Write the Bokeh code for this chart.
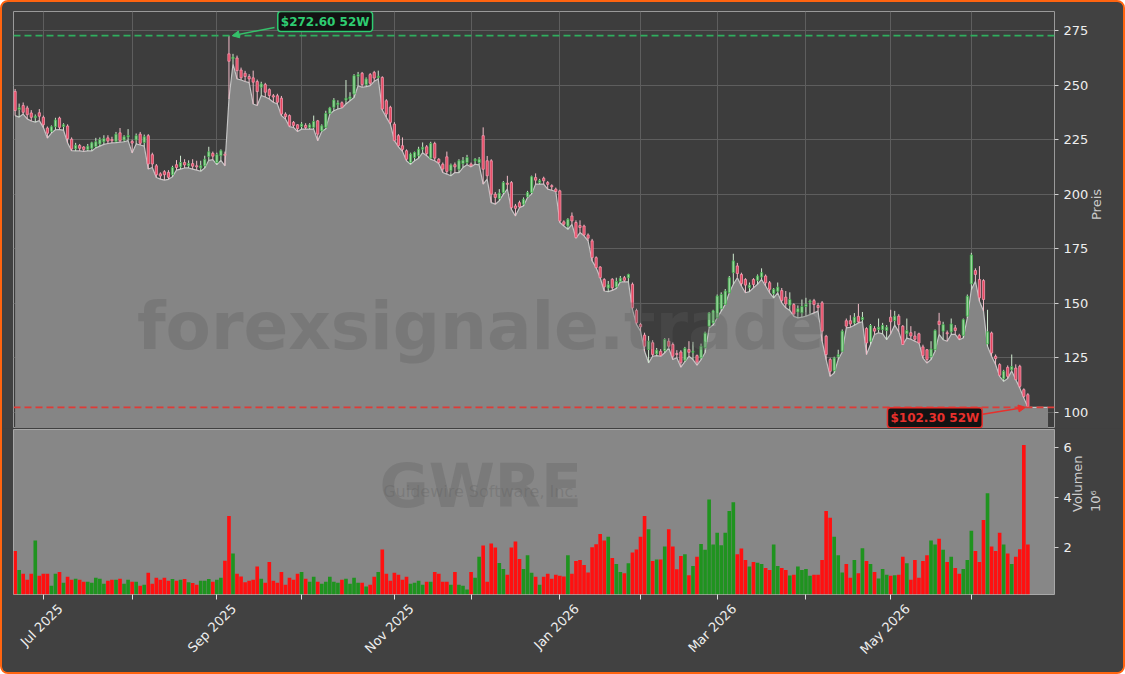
import math
import pandas as pd
from bokeh.plotting import figure
from bokeh.models import (Range1d, FixedTicker, Span, Label, Arrow, NormalHead,
                          ColumnDataSource)
from bokeh.layouts import column
from bokeh.embed import file_html
from bokeh.resources import INLINE

# ---------------- data ----------------
start_date = "2025-06-20"
holidays = ["2025-07-04", "2025-09-01", "2025-11-27", "2025-12-25", "2026-01-01",
            "2026-01-19", "2026-02-16", "2026-04-03", "2026-05-25", "2026-06-19"]

opens = [
    247.1, 238.8, 240.6, 239.5, 237.2, 235.0, 237.3, 235.2, 230.3, 228.8,
    230.9, 234.9, 231.0, 231.2, 225.2, 220.8, 222.3, 221.6, 220.5, 221.0,
    221.8, 223.0, 224.0, 225.8, 225.0, 224.2, 228.1, 224.8, 226.2, 224.2,
    224.8, 227.5, 223.7, 226.8, 218.1, 213.0, 209.3, 210.3, 210.0, 208.9,
    213.5, 212.5, 214.5, 213.0, 214.0, 213.0, 212.0, 213.0, 217.2, 218.7,
    214.5, 217.6, 218.3, 264.3, 262.0, 262.4, 256.9, 255.4, 253.9, 253.3,
    251.6, 249.0, 250.2, 247.9, 245.1, 245.1, 244.0, 236.7, 236.0, 232.9,
    231.8, 231.0, 231.5, 230.5, 230.6, 233.6, 229.0, 230.6, 237.0, 239.8,
    241.0, 241.9, 243.1, 243.7, 245.9, 254.0, 255.4, 250.2, 254.8, 255.8,
    253.5, 253.5, 242.8, 239.8, 232.1, 226.8, 222.2, 219.9, 214.5, 216.8,
    217.6, 220.6, 221.7, 216.5, 223.2, 216.0, 213.7, 217.1, 210.7, 213.5,
    211.4, 214.0, 214.5, 213.8, 215.3, 214.5, 226.8, 215.3, 215.3, 200.0,
    198.0, 200.8, 205.0, 205.3, 194.6, 196.1, 195.4, 198.8, 200.8, 207.6,
    205.3, 207.3, 205.3, 203.9, 202.3, 201.5, 187.3, 185.4, 190.0, 187.0,
    185.6, 185.4, 181.3, 178.6, 170.9, 166.6, 160.9, 157.0, 161.0, 157.5,
    160.0, 161.7, 161.7, 158.7, 146.7, 140.3, 135.4, 128.8, 131.9, 126.8,
    128.0, 128.3, 132.6, 131.1, 127.0, 127.7, 123.9, 128.8, 127.5, 126.0,
    125.0, 129.6, 139.5, 141.0, 143.3, 147.5, 149.5, 154.8, 164.0, 167.1,
    163.2, 160.9, 157.1, 160.9, 160.5, 162.0, 162.5, 159.4, 154.4, 155.5,
    155.8, 152.8, 149.1, 149.4, 146.0, 145.5, 148.5, 150.5, 151.2, 149.0,
    150.2, 134.9, 124.2, 119.1, 125.5, 128.0, 142.0, 142.0, 141.0, 144.0,
    142.5, 138.4, 132.6, 138.4, 138.0, 137.9, 137.5, 143.6, 142.1, 144.1,
    139.5, 136.0, 136.5, 135.0, 136.0, 130.0, 128.7, 125.5, 128.7, 141.8,
    137.2, 136.5, 136.9, 138.7, 135.3, 135.3, 144.1, 158.9, 165.0, 160.9,
    160.4, 131.4, 136.4, 125.7, 121.9, 115.4, 120.6, 119.5, 120.3, 121.1,
    110.4, 108.1]

closes = [
    238.3, 239.6, 237.5, 236.4, 235.2, 235.7, 235.7, 231.8, 227.9, 230.9,
    234.0, 230.6, 231.8, 225.4, 220.7, 222.4, 221.0, 220.5, 222.0, 223.5,
    224.0, 225.0, 225.5, 224.3, 224.5, 227.5, 224.5, 226.3, 226.9, 223.4,
    226.8, 223.3, 226.3, 213.8, 213.8, 208.9, 208.3, 208.9, 207.7, 212.2,
    212.2, 214.5, 213.4, 214.0, 212.8, 212.5, 213.0, 216.0, 219.4, 217.4,
    218.1, 219.9, 217.8, 260.9, 262.8, 256.6, 253.3, 253.9, 252.8, 251.3,
    247.0, 250.5, 246.7, 245.2, 244.5, 242.1, 236.7, 235.5, 231.3, 231.5,
    230.0, 232.1, 230.5, 231.8, 233.3, 227.5, 231.3, 237.0, 239.5, 243.1,
    241.8, 239.8, 244.0, 244.6, 254.3, 254.8, 250.2, 252.8, 250.8, 253.2,
    254.0, 239.0, 236.7, 232.9, 224.5, 222.2, 220.5, 216.0, 218.4, 219.1,
    220.6, 221.5, 218.6, 223.2, 216.5, 214.5, 211.5, 210.4, 213.4, 212.5,
    215.3, 215.5, 216.8, 213.0, 216.0, 216.0, 211.4, 208.4, 200.0, 198.5,
    200.5, 205.3, 204.5, 193.8, 193.5, 194.1, 197.7, 200.8, 208.0, 206.4,
    206.2, 206.1, 204.5, 203.4, 201.2, 187.7, 186.2, 188.5, 187.7, 180.1,
    184.7, 181.3, 179.8, 170.9, 166.3, 161.7, 157.5, 158.5, 157.1, 160.0,
    161.5, 160.5, 163.2, 147.9, 141.0, 139.2, 130.3, 132.6, 126.5, 128.5,
    126.0, 133.4, 130.3, 125.7, 126.5, 122.7, 129.3, 127.5, 128.0, 123.0,
    130.3, 136.4, 145.5, 146.5, 153.3, 154.0, 155.6, 161.7, 169.4, 163.6,
    159.0, 158.3, 158.3, 158.6, 162.5, 164.0, 159.4, 156.4, 156.4, 157.4,
    151.3, 149.7, 151.7, 145.1, 147.5, 148.5, 149.5, 151.0, 149.4, 148.0,
    137.2, 126.5, 118.8, 124.9, 126.4, 137.2, 139.5, 140.5, 143.6, 141.5,
    143.5, 131.8, 139.8, 137.2, 139.0, 139.8, 139.0, 141.5, 144.1, 140.2,
    131.1, 137.5, 135.0, 133.5, 131.8, 126.0, 124.2, 129.0, 137.5, 140.2,
    140.2, 136.0, 140.5, 137.5, 133.8, 142.5, 153.2, 172.1, 163.2, 152.5,
    151.7, 136.9, 127.2, 124.6, 117.0, 118.8, 116.5, 121.0, 115.0, 111.9,
    107.3, 102.7]

highs = [
    248.2, 241.5, 242.0, 240.5, 238.5, 236.5, 239.0, 236.0, 231.0, 231.5,
    235.0, 235.5, 232.5, 232.0, 226.0, 223.5, 223.0, 222.0, 223.0, 224.0,
    225.8, 226.0, 227.0, 227.0, 226.3, 228.5, 230.3, 227.0, 229.8, 225.0,
    227.8, 228.5, 227.3, 227.5, 219.0, 213.8, 210.0, 211.0, 211.0, 213.0,
    215.6, 217.6, 216.0, 215.5, 216.0, 215.3, 215.3, 217.6, 221.7, 219.5,
    219.0, 220.5, 219.5, 272.6, 264.3, 263.5, 258.0, 256.5, 255.0, 256.6,
    252.5, 251.5, 251.0, 248.5, 245.9, 246.0, 245.0, 237.5, 236.5, 233.5,
    232.0, 233.0, 232.5, 232.5, 236.0, 234.0, 232.0, 238.2, 240.0, 244.0,
    243.0, 242.5, 252.3, 246.7, 255.0, 256.0, 256.0, 253.5, 255.5, 256.5,
    256.6, 254.0, 243.5, 240.5, 233.0, 227.5, 226.0, 220.5, 219.0, 219.5,
    221.7, 223.7, 222.5, 224.0, 224.0, 216.5, 214.5, 219.5, 214.0, 214.5,
    216.0, 217.0, 218.0, 214.5, 216.5, 217.0, 230.6, 217.5, 216.0, 201.0,
    202.3, 206.0, 208.4, 206.0, 195.5, 197.0, 198.5, 201.5, 208.5, 209.5,
    207.0, 208.0, 206.0, 204.5, 203.0, 202.0, 188.0, 189.0, 191.6, 188.0,
    188.0, 186.0, 182.0, 179.5, 171.5, 167.0, 161.5, 160.2, 161.5, 161.7,
    162.5, 162.5, 163.5, 159.5, 147.5, 141.0, 136.5, 135.0, 133.0, 129.5,
    129.0, 134.0, 134.0, 132.0, 128.5, 128.5, 130.0, 132.6, 132.3, 126.5,
    131.5, 137.0, 146.0, 147.0, 154.0, 155.0, 156.5, 162.5, 172.7, 168.5,
    164.0, 161.5, 159.5, 161.5, 163.2, 166.0, 163.2, 160.2, 157.0, 159.5,
    157.0, 155.6, 155.0, 150.0, 149.0, 151.7, 152.5, 151.7, 152.0, 150.2,
    151.0, 135.5, 125.0, 125.5, 128.7, 138.0, 143.0, 144.5, 145.5, 149.7,
    146.0, 139.0, 140.5, 139.5, 143.0, 141.0, 140.0, 147.0, 146.5, 145.0,
    140.0, 143.0, 139.5, 137.2, 136.5, 131.0, 129.0, 132.6, 138.0, 145.6,
    141.5, 137.5, 143.0, 140.0, 136.0, 143.0, 154.0, 173.1, 166.0, 167.0,
    161.0, 147.0, 137.0, 126.5, 122.5, 119.5, 121.5, 126.5, 122.0, 121.8,
    111.0, 108.8]

lows = [
    236.0, 235.3, 236.7, 234.5, 233.5, 233.0, 233.7, 230.5, 225.7, 228.0,
    229.5, 229.6, 229.3, 223.5, 219.9, 219.8, 219.8, 219.6, 219.8, 219.8,
    221.2, 222.0, 222.8, 223.2, 223.5, 223.6, 223.8, 224.0, 224.5, 218.9,
    223.0, 222.5, 222.0, 211.5, 212.2, 207.6, 206.9, 206.4, 206.8, 208.0,
    211.0, 211.5, 212.0, 212.0, 211.5, 211.0, 210.5, 212.0, 215.5, 215.8,
    213.5, 215.5, 213.0, 243.6, 259.7, 252.8, 252.3, 251.6, 251.1, 241.3,
    240.6, 245.2, 244.5, 243.6, 242.1, 241.3, 236.0, 234.4, 230.9, 230.6,
    228.7, 229.8, 229.8, 229.8, 229.8, 224.5, 228.7, 230.0, 236.7, 238.2,
    239.0, 239.5, 241.3, 242.8, 244.3, 249.7, 249.0, 249.3, 249.7, 251.7,
    252.8, 238.6, 235.2, 232.1, 224.5, 221.7, 219.6, 215.3, 213.7, 215.3,
    216.5, 219.0, 217.6, 216.0, 215.3, 214.0, 209.9, 209.2, 208.4, 209.9,
    209.9, 212.2, 213.5, 212.5, 213.7, 213.4, 204.6, 206.9, 196.1, 195.4,
    197.0, 199.9, 202.3, 193.0, 190.0, 193.8, 194.6, 198.5, 200.0, 204.6,
    204.6, 204.6, 202.3, 201.8, 201.2, 187.0, 185.4, 183.9, 186.2, 179.8,
    182.4, 180.9, 178.6, 169.4, 166.3, 161.7, 155.6, 155.3, 155.9, 156.8,
    159.8, 159.8, 159.8, 147.2, 140.3, 137.2, 128.0, 122.7, 125.7, 126.0,
    125.7, 127.3, 129.5, 124.2, 125.0, 120.7, 123.2, 125.7, 124.2, 121.6,
    124.2, 127.3, 138.7, 140.0, 143.3, 146.4, 149.5, 154.8, 158.7, 161.7,
    157.9, 154.8, 155.3, 157.1, 158.7, 160.9, 157.9, 154.8, 152.5, 154.8,
    150.2, 147.9, 146.7, 144.0, 143.3, 143.6, 144.1, 144.8, 145.6, 146.4,
    132.6, 124.2, 116.5, 118.0, 124.2, 127.7, 138.7, 139.0, 139.9, 141.0,
    141.5, 126.5, 131.1, 135.7, 136.5, 136.0, 133.3, 136.0, 140.0, 137.0,
    131.1, 134.0, 133.5, 132.6, 131.8, 124.9, 122.6, 124.2, 128.0, 135.7,
    133.3, 132.6, 135.7, 135.7, 133.3, 134.1, 143.3, 156.3, 160.1, 150.9,
    146.4, 130.3, 125.7, 121.9, 116.5, 114.2, 115.5, 119.0, 115.0, 111.1,
    106.6, 102.3]

volumes_m = [
    1.85, 1.08, 0.93, 0.69, 0.93, 2.27, 0.85, 0.93, 0.93, 0.45,
    0.93, 1.00, 0.57, 0.81, 0.69, 0.73, 0.69, 0.61, 0.61, 0.57,
    0.77, 0.73, 0.53, 0.65, 0.69, 0.69, 0.73, 0.53, 0.69, 0.61,
    0.61, 0.45, 0.49, 0.97, 0.53, 0.77, 0.69, 0.77, 0.65, 0.72,
    0.65, 0.69, 0.72, 0.59, 0.56, 0.49, 0.65, 0.65, 0.72, 0.61,
    0.69, 0.77, 1.45, 3.25, 1.74, 0.93, 0.82, 0.59, 0.65, 0.69,
    1.22, 0.73, 0.57, 1.40, 0.65, 0.57, 1.00, 0.49, 0.77, 0.69,
    0.93, 1.00, 0.73, 0.61, 0.81, 0.61, 0.53, 0.61, 0.81, 0.61,
    0.57, 0.69, 0.73, 0.53, 0.77, 0.57, 0.57, 0.42, 0.49, 0.81,
    1.00, 1.91, 0.93, 0.65, 0.97, 0.89, 0.69, 0.81, 0.53, 0.57,
    0.65, 0.49, 0.61, 0.61, 1.00, 0.93, 0.61, 0.61, 0.49, 1.00,
    0.49, 0.45, 0.30, 1.00, 0.77, 1.61, 2.07, 0.61, 2.15, 1.99,
    1.36, 1.12, 0.89, 1.99, 2.23, 1.52, 1.12, 1.67, 0.97, 0.81,
    0.49, 0.81, 0.93, 0.73, 0.89, 0.85, 0.82, 1.67, 0.93, 1.44,
    1.48, 1.28, 0.98, 2.00, 2.12, 2.53, 2.27, 2.42, 1.56, 1.32,
    1.00, 0.95, 1.35, 1.79, 1.91, 2.42, 3.25, 2.72, 1.44, 1.50,
    1.50, 2.03, 2.72, 2.03, 1.11, 1.64, 1.71, 0.87, 1.24, 1.61,
    2.13, 1.90, 3.91, 2.11, 2.58, 2.08, 2.58, 3.45, 3.80, 1.71,
    1.95, 1.48, 1.22, 1.40, 1.37, 1.32, 1.16, 1.08, 2.11, 1.24,
    1.16, 1.08, 0.86, 0.89, 1.22, 1.08, 1.12, 0.85, 0.89, 0.89,
    1.48, 3.45, 3.18, 2.42, 1.67, 0.98, 1.32, 0.77, 1.48, 0.95,
    1.96, 1.44, 1.32, 1.00, 0.74, 1.12, 0.89, 0.85, 0.87, 0.89,
    1.61, 1.35, 0.69, 1.48, 0.77, 1.44, 1.67, 2.27, 2.11, 2.34,
    1.90, 1.40, 1.61, 1.16, 0.93, 1.12, 1.48, 2.66, 1.85, 1.40,
    3.09, 4.16, 2.03, 1.85, 2.58, 2.11, 1.74, 1.32, 1.61, 1.92,
    6.10, 2.11]

price_ticks = [100, 125, 150, 175, 200, 225, 250, 275]
volume_ticks = [2, 4, 6]
ticker_symbol = "GWRE"
company_name = "Guidewire Software, Inc."
watermark = "forexsignale.trade"

# ---------------- derived ----------------
N = len(closes)
xs = list(range(N))
dates = pd.date_range(start_date, periods=N,
                      freq=pd.offsets.CustomBusinessDay(holidays=holidays))
month_starts = [i for i in range(1, N) if dates[i].month != dates[i - 1].month]
major_idx = [i for i in month_starts if dates[i].month % 2 == 1]
LABEL_SHIFT = 4.2  # labels are centred on their tick like the reference
label_pos = [i + LABEL_SHIFT for i in major_idx]
labels = {i + LABEL_SHIFT: dates[i].strftime("%b %Y") for i in major_idx}

up = [c >= o for o, c in zip(opens, closes)]
hi = [max(h, o, c) for h, o, c in zip(highs, opens, closes)]
lo = [min(l, o, c) for l, o, c in zip(lows, opens, closes)]
src = ColumnDataSource(dict(
    x=xs, h=hi, l=lo,
    top=[max(o, c) for o, c in zip(opens, closes)],
    bot=[min(o, c) for o, c in zip(opens, closes)],
    bfill=["#9fd8a2" if u else "#e8455f" for u in up],
    bline=["#3fae4a" if u else "#f39ab0" for u in up],
    wick=["#cfe9cf" if u else "#f2bcc8" for u in up],
    vol=volumes_m,
    vcol=["#1f931f" if u else "#ff1010" for u in up],
))

max_high = max(hi)
min_low = min(lo)
hi_i = hi.index(max_high)
lo_i = lo.index(min_low)

FONT = "DejaVu Sans"
BG = "#414141"
PLOT_BG = "#3d3d3d"
xr = Range1d(-0.4, 257.6)


def style_y(ax, label, standoff):
    ax.axis_line_color = None
    ax.major_tick_line_color = "#d0d0d0"
    ax.major_tick_out = 4
    ax.major_tick_in = 0
    ax.minor_tick_line_color = None
    ax.major_label_text_color = "#eeeeee"
    ax.major_label_text_font = FONT
    ax.major_label_text_font_size = "13px"
    ax.axis_label = label
    ax.axis_label_standoff = standoff
    ax.axis_label_text_color = "#cccccc"
    ax.axis_label_text_font = FONT
    ax.axis_label_text_font_size = "13px"
    ax.axis_label_text_font_style = "normal"
    if "axis_label_orientation" in ax.properties():
        ax.axis_label_orientation = math.pi / 2


# ---------------- price panel ----------------
p1 = figure(width=1121, height=426, x_range=xr, y_range=Range1d(92.6, 283.7),
            output_backend="svg", toolbar_location=None, x_axis_location=None,
            y_axis_location="right", min_border_left=11, min_border_right=69,
            min_border_top=9, min_border_bottom=0,
            background_fill_color=PLOT_BG, border_fill_color=BG,
            outline_line_color="#9a9a9a", outline_line_width=1)
p1.xgrid.ticker = FixedTicker(ticks=month_starts)
p1.xgrid.grid_line_color = "#5e5e5e"
p1.ygrid.grid_line_color = "#5e5e5e"
p1.yaxis.ticker = FixedTicker(ticks=price_ticks)
style_y(p1.yaxis[0], "Preis", 5)

fill_x = xs + [N - 1 + 5]
fill_y = lo + [lo[-1]]
p1.varea(x=fill_x, y1=92.6, y2=fill_y, fill_color="#858585")
p1.line(fill_x, fill_y, line_color="#c4c4c4", line_width=1.2)

p1.add_layout(Span(location=max_high, dimension="width", line_color="#2fae5e",
                   line_dash="7 4", line_width=1.8))
p1.add_layout(Span(location=min_low, dimension="width", line_color="#df3b37",
                   line_dash="7 4", line_width=1.8))

p1.segment(x0="x", y0="h", x1="x", y1="l", line_color="wick", line_width=1, source=src)
p1.vbar(x="x", width=0.55, top="top", bottom="bot", fill_color="bfill",
        line_color="bline", line_width=0.8, source=src)

p1.add_layout(Label(x=115.4, y=139.5, text=watermark, text_font=FONT,
                    text_font_size="66px", text_font_style="bold",
                    text_color="#5c5c5c", text_alpha=0.3,
                    text_align="center", text_baseline="middle"))

p1.add_layout(Arrow(end=NormalHead(size=7, fill_color="#35c06a", line_color="#35c06a"),
                    x_start=64.3, y_start=276.4, x_end=hi_i + 0.8, y_end=max_high,
                    line_color="#35c06a", line_width=1.5))
p1.add_layout(Label(x=65.1, y=279.1, text=f"${max_high:.2f} 52W", text_font=FONT,
                    text_font_size="12px", text_font_style="bold",
                    text_color="#2ecc71", text_align="left", text_baseline="middle",
                    background_fill_color="#131313", background_fill_alpha=1.0,
                    border_line_color="#2ecc71", border_line_width=1.5,
                    padding=3, border_radius=3))

p1.add_layout(Arrow(end=NormalHead(size=7, fill_color="#e8302c", line_color="#e8302c"),
                    x_start=239.8, y_start=99.1, x_end=lo_i - 0.6, y_end=min_low,
                    line_color="#e8302c", line_width=1.5))
p1.add_layout(Label(x=216.2, y=97.5, text=f"${min_low:.2f} 52W", text_font=FONT,
                    text_font_size="12px", text_font_style="bold",
                    text_color="#e8302c", text_align="left", text_baseline="middle",
                    background_fill_color="#131313", background_fill_alpha=1.0,
                    border_line_color="#e8302c", border_line_width=1.5,
                    padding=3, border_radius=3))

# ---------------- volume panel ----------------
p2 = figure(width=1121, height=244, x_range=xr, y_range=Range1d(0.1, 6.72),
            output_backend="svg", toolbar_location=None, y_axis_location="right",
            min_border_left=11, min_border_right=69, min_border_top=1,
            min_border_bottom=78, background_fill_color="#878787",
            border_fill_color=BG, outline_line_color="#a8a8a8", outline_line_width=1)
p2.xgrid.visible = False
p2.ygrid.visible = False
p2.vbar(x="x", width=0.9, top="vol", bottom=0, fill_color="vcol",
        line_color=None, source=src)

p2.add_layout(Label(x=115.4, y=4.47, text=ticker_symbol, text_font=FONT,
                    text_font_size="60px", text_font_style="bold",
                    text_color="#5c5c5c", text_alpha=0.3,
                    text_align="center", text_baseline="alphabetic"))
p2.add_layout(Label(x=115.4, y=4.22, text=company_name, text_font=FONT,
                    text_font_size="16px", text_color="#5c5c5c", text_alpha=0.3,
                    text_align="center", text_baseline="middle"))

# one date axis: tick marks at every month start (minor ticks),
# labels (hidden major ticks) centred on the labelled month ticks
xa = p2.xaxis[0]
xa.ticker = FixedTicker(ticks=label_pos, minor_ticks=month_starts)
xa.major_label_overrides = labels
xa.major_label_orientation = math.pi / 4
xa.axis_line_color = None
xa.major_tick_line_color = None
xa.major_tick_out = 0
xa.major_tick_in = 0
xa.minor_tick_line_color = "#e0e0e0"
xa.minor_tick_out = 5
xa.minor_tick_in = 0
xa.major_label_standoff = 7
xa.major_label_text_color = "#eeeeee"
xa.major_label_text_font = FONT
xa.major_label_text_font_size = "13px"

p2.yaxis.ticker = FixedTicker(ticks=volume_ticks)
style_y(p2.yaxis[0], "Volumen\n10\u2076", 12)

layout = column(p1, p2, spacing=0,
                styles={"border": "2px solid #ff6410", "border-radius": "8px",
                        "background-color": BG, "overflow": "hidden"})

open("out.html", "w").write(file_html(layout, INLINE))
